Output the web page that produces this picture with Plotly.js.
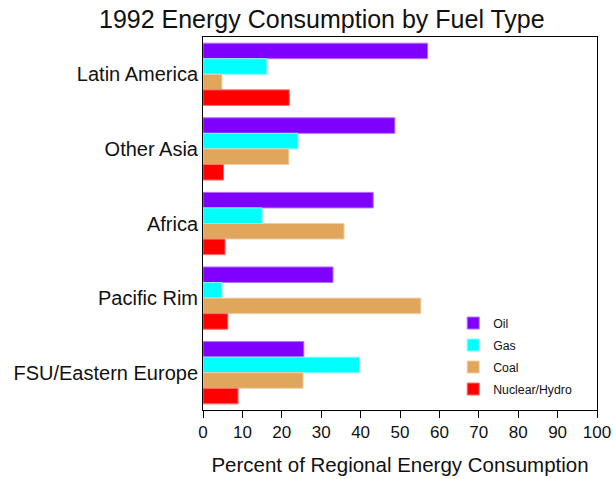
<!DOCTYPE html>
<html>
<head>
<meta charset="utf-8">
<script src="https://cdn.plot.ly/plotly-3.0.1.min.js"></script>
<style>html,body{margin:0;padding:0;background:#fff;}#chart{width:613px;height:479px;}</style>
</head>
<body>
<div id="chart"></div>
<script>
var regions = ["Latin America", "Other Asia", "Africa", "Pacific Rim", "FSU/Eastern Europe"];
var oil = [57, 48.7, 43.2, 33, 25.6];
var gas = [16.2, 24.1, 15, 4.8, 39.7];
var coal = [4.8, 21.8, 35.8, 55.3, 25.4];
var nuclear = [21.9, 5.2, 5.6, 6.3, 8.9];
var fuelNames = ["Oil", "Gas", "Coal", "Nuclear/Hydro"];
var xTicks = [0, 10, 20, 30, 40, 50, 60, 70, 80, 90, 100];

var colors = ["#8000ff", "#00ffff", "#e0a65c", "#ff0000"];
var edges = ["#b573ff", "#80ffff", "#efcfa6", "#ff7070"];
var series = [oil, gas, coal, nuclear];

var traces = series.map(function (vals, i) {
  return {
    type: "bar",
    orientation: "h",
    name: fuelNames[i],
    x: vals,
    y: regions,
    legendgroup: "g" + i,
    marker: { color: colors[i], line: { color: edges[i], width: 1 } },
    hoverinfo: "x+name"
  };
});

var font = "Liberation Sans, Arial, Helvetica, sans-serif";
var layout = {
  width: 613,
  height: 479,
  margin: { l: 203, r: 16, t: 37, b: 69 },
  paper_bgcolor: "#fff",
  plot_bgcolor: "#fff",
  font: { family: font, color: "#111" },
  title: {
    text: "1992 Energy Consumption by Fuel Type",
    font: { size: 25, family: font, color: "#111" },
    xref: "container", x: 0.525, xanchor: "center",
    yref: "container", y: 0.96, yanchor: "middle"
  },
  barmode: "group",
  bargap: 0.165,
  bargroupgap: 0,
  xaxis: {
    range: [0, 100],
    tickvals: xTicks,
    ticktext: xTicks.map(String),
    ticks: "outside",
    ticklen: 7,
    tickwidth: 1,
    tickcolor: "#000",
    showline: true,
    linecolor: "#000",
    linewidth: 1,
    mirror: true,
    showgrid: false,
    zeroline: false,
    tickfont: { size: 17, family: font, color: "#111" },
    title: { text: "Percent of Regional Energy Consumption", font: { size: 20.5, family: font, color: "#111" }, standoff: 16 }
  },
  yaxis: {
    type: "category",
    autorange: "reversed",
    showline: true,
    linecolor: "#000",
    linewidth: 1,
    mirror: true,
    ticks: "",
    showgrid: false,
    zeroline: false,
    tickfont: { size: 20, family: font, color: "#111" }
  },
  showlegend: true,
  legend: {
    x: 0.635, xanchor: "left",
    y: 0.272, yanchor: "top",
    traceorder: "grouped",
    tracegroupgap: 3,
    font: { size: 12.3, family: font, color: "#111" },
    bgcolor: "rgba(0,0,0,0)"
  }
};

Plotly.newPlot("chart", traces, layout, { displayModeBar: false, staticPlot: true });
</script>
</body>
</html>
